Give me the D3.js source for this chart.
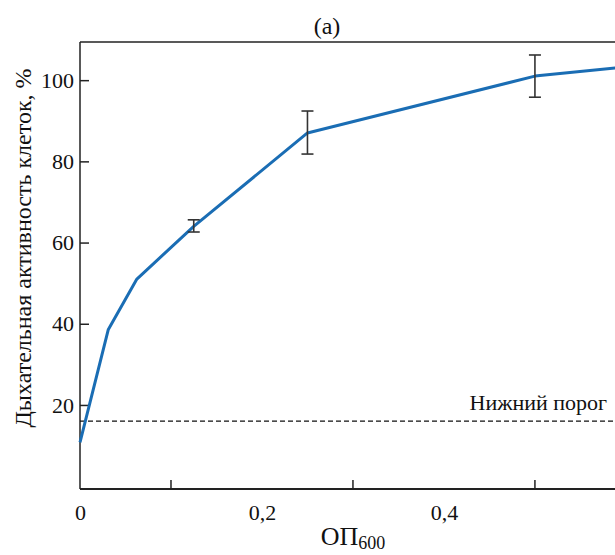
<!DOCTYPE html>
<html>
<head>
<meta charset="utf-8">
<script src="https://cdn.jsdelivr.net/npm/d3@7"></script>
<style>
  body { margin: 0; background: #fff; }
  svg { display: block; }
</style>
</head>
<body>
<div id="chart"></div>
<script>
// OD600 vs respiratory activity, %
const odValues = [0, 0.031, 0.0625, 0.125, 0.25, 0.5, 0.6];
const activity = [10.8, 38.5, 51, 64, 87, 101, 103.3];

// error bars: [od, low, high]
const errorBars = [
    [0.125, 62.6, 65.6],
    [0.25, 81.8, 92.4],
    [0.5, 95.8, 106.2]
];

const threshold = 16;
const thresholdLabel = 'Нижний порог';
const xTickLabels = [0, 0.2, 0.4];
const xMinorTicks = [0.1, 0.3, 0.5];
const yTickValues = [20, 40, 60, 80, 100];

const width = 615;
const height = 555;
const margin = { top: 42, right: 0, bottom: 66, left: 80 };
const FONT = 'Liberation Serif, Times New Roman, serif';

const svg = d3.select('#chart').append('svg')
    .attr('width', width)
    .attr('height', height)
    .attr('font-family', FONT);

const x = d3.scaleLinear()
    .domain([0, 0.588])
    .range([margin.left, width - margin.right]);

const y = d3.scaleLinear()
    .domain([-0.7, 109.4])
    .range([height - margin.bottom, margin.top]);

const plotBottom = height - margin.bottom;

// Title
svg.append('text')
    .attr('x', 327)
    .attr('y', 34)
    .attr('text-anchor', 'middle')
    .attr('font-family', FONT)
    .attr('font-size', 24)
    .attr('fill', '#111')
    .text('(a)');

// Top border
svg.append('line')
    .attr('x1', margin.left).attr('x2', width)
    .attr('y1', margin.top).attr('y2', margin.top)
    .attr('stroke', '#222').attr('stroke-width', 1.5);

// Y axis
const yAxis = d3.axisLeft(y)
    .tickValues(yTickValues)
    .tickSize(-9)
    .tickPadding(6)
    .tickFormat(d => d);

svg.append('g')
    .attr('transform', `translate(${margin.left},0)`)
    .call(yAxis)
    .attr('font-family', FONT)
    .attr('font-size', 22)
    .call(g => g.select('.domain').remove())
    .call(g => g.selectAll('.tick line').attr('stroke', '#222').attr('stroke-width', 1.5))
    .call(g => g.selectAll('.tick text')
        .attr('x', -6)
        .attr('fill', '#111'));

svg.append('line')
    .attr('x1', margin.left).attr('x2', margin.left)
    .attr('y1', margin.top).attr('y2', plotBottom)
    .attr('stroke', '#222').attr('stroke-width', 1.5);

// X axis
const xAxis = d3.axisBottom(x)
    .tickValues(xTickLabels)
    .tickSize(0)
    .tickPadding(15)
    .tickFormat(d => d === 0 ? '0' : d3.format('.1f')(d).replace('.', ','));

svg.append('g')
    .attr('transform', `translate(0,${plotBottom})`)
    .call(xAxis)
    .attr('font-family', FONT)
    .attr('font-size', 22)
    .call(g => g.select('.domain').remove())
    .call(g => g.selectAll('.tick text').attr('fill', '#111'));

svg.append('g')
    .selectAll('line')
    .data(xMinorTicks)
    .join('line')
    .attr('x1', d => x(d)).attr('x2', d => x(d))
    .attr('y1', plotBottom).attr('y2', plotBottom - 9)
    .attr('stroke', '#222').attr('stroke-width', 1.5);

svg.append('line')
    .attr('x1', margin.left).attr('x2', width)
    .attr('y1', plotBottom).attr('y2', plotBottom)
    .attr('stroke', '#222').attr('stroke-width', 2);

// Y label
svg.append('text')
    .attr('transform', 'translate(31,248) rotate(-90)')
    .attr('text-anchor', 'middle')
    .attr('font-family', FONT)
    .attr('font-size', 24)
    .attr('fill', '#111')
    .text('Дыхательная активность клеток, %');

// X label with subscript
const xLabel = svg.append('text')
    .attr('x', 353)
    .attr('y', 545)
    .attr('text-anchor', 'middle')
    .attr('font-family', FONT)
    .attr('font-size', 26)
    .attr('fill', '#111');
xLabel.append('tspan').text('ОП');
xLabel.append('tspan').attr('dy', 4).attr('font-size', 18).text('600');

// Threshold line
svg.append('line')
    .attr('x1', margin.left).attr('x2', width)
    .attr('y1', y(threshold)).attr('y2', y(threshold))
    .attr('stroke', '#111')
    .attr('stroke-width', 1.2)
    .attr('stroke-dasharray', '5,3');

svg.append('text')
    .attr('x', 607)
    .attr('y', y(threshold) - 11)
    .attr('text-anchor', 'end')
    .attr('font-family', FONT)
    .attr('font-size', 22)
    .attr('fill', '#111')
    .text(thresholdLabel);

// Curve
const line = d3.line()
    .x((d, i) => x(odValues[i]))
    .y(d => y(d));

svg.append('path')
    .datum(activity)
    .attr('d', line)
    .attr('fill', 'none')
    .attr('stroke', '#1a6db4')
    .attr('stroke-width', 3)
    .attr('stroke-linejoin', 'round');

// Error bars
const capW = 6;
const eb = svg.append('g')
    .attr('stroke', '#333')
    .attr('stroke-width', 1.6);

errorBars.forEach(([od, lo, hi]) => {
    eb.append('line')
        .attr('x1', x(od)).attr('x2', x(od))
        .attr('y1', y(lo)).attr('y2', y(hi));
    eb.append('line')
        .attr('x1', x(od) - capW).attr('x2', x(od) + capW)
        .attr('y1', y(lo)).attr('y2', y(lo));
    eb.append('line')
        .attr('x1', x(od) - capW).attr('x2', x(od) + capW)
        .attr('y1', y(hi)).attr('y2', y(hi));
});
</script>
</body>
</html>
